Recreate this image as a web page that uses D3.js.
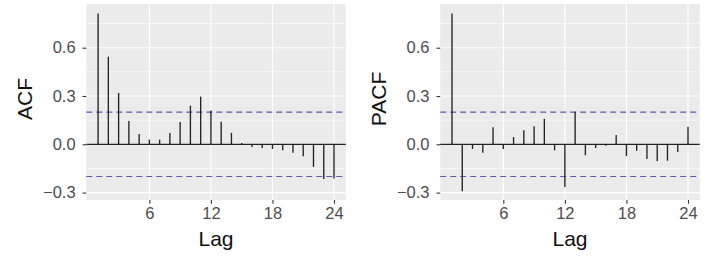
<!DOCTYPE html>
<html><head><meta charset="utf-8">
<script src="https://cdn.jsdelivr.net/npm/d3@7"></script>
<style>body{margin:0;background:#fff}svg{display:block}</style>
</head><body>
<svg id="c" width="708" height="260"></svg>
<script>
const lags = [1,2,3,4,5,6,7,8,9,10,11,12,13,14,15,16,17,18,19,20,21,22,23,24];
const acfValues = [0.813,0.544,0.319,0.145,0.064,0.029,0.029,0.070,0.139,0.240,0.296,0.210,0.140,0.071,0.008,-0.017,-0.023,-0.029,-0.037,-0.052,-0.075,-0.141,-0.216,-0.213];
const pacfValues = [0.813,-0.292,-0.029,-0.052,0.106,-0.029,0.045,0.087,0.112,0.158,-0.037,-0.265,0.202,-0.068,-0.023,-0.009,0.058,-0.073,-0.040,-0.091,-0.104,-0.102,-0.048,0.109];
const xTicks = [6,12,18,24];
const yTicks = [-0.3,0.0,0.3,0.6];
const yMinor = [-0.15,0.15,0.45,0.75];
const ciLimit = 0.2;
const panelTitles = ["ACF","PACF"];

(function(){
const svg = d3.select("#c");
const font = "'Liberation Sans', Arial, sans-serif";
const yTop = 4, yBottom = 200;
const panels = [
  {x0: 86.3, x1: 345.8, values: acfValues, title: panelTitles[0], titleX: 25},
  {x0: 440.2, x1: 699.8, values: pacfValues, title: panelTitles[1], titleX: 379}
];
const y = d3.scaleLinear().domain([-0.346, 0.8715]).range([yBottom, yTop]);

panels.forEach(p => {
  const x = d3.scaleLinear().domain([-0.15, 25.15]).range([p.x0, p.x1]);
  const g = svg.append("g");
  g.append("rect").attr("x", p.x0).attr("y", yTop).attr("width", p.x1 - p.x0).attr("height", yBottom - yTop).attr("fill", "#EBEBEB");
  g.selectAll(".ymin").data(yMinor).enter().append("line")
    .attr("x1", p.x0).attr("x2", p.x1).attr("y1", d => y(d)).attr("y2", d => y(d))
    .attr("stroke", "#fff").attr("stroke-width", 0.6);
  g.selectAll(".ymaj").data(yTicks).enter().append("line")
    .attr("x1", p.x0).attr("x2", p.x1).attr("y1", d => y(d)).attr("y2", d => y(d))
    .attr("stroke", "#fff").attr("stroke-width", 1.1);
  g.selectAll(".xmaj").data(xTicks).enter().append("line")
    .attr("x1", d => x(d)).attr("x2", d => x(d)).attr("y1", yTop).attr("y2", yBottom)
    .attr("stroke", "#fff").attr("stroke-width", 1.1);
  [ciLimit, -ciLimit].forEach(v => {
    g.append("line").attr("x1", p.x0).attr("x2", p.x1).attr("y1", y(v)).attr("y2", y(v))
      .attr("stroke", "#5A5AAE").attr("stroke-width", 1.1).attr("stroke-dasharray", "6,4");
  });
  g.append("line").attr("x1", p.x0).attr("x2", p.x1).attr("y1", y(0)).attr("y2", y(0))
    .attr("stroke", "#222").attr("stroke-width", 1.2);
  g.selectAll(".bar").data(lags).enter().append("line")
    .attr("x1", d => x(d)).attr("x2", d => x(d))
    .attr("y1", y(0)).attr("y2", (d, i) => y(p.values[i]))
    .attr("stroke", "#222").attr("stroke-width", 1.35);
  const xa = g.append("g").attr("transform", `translate(0,${yBottom})`)
    .call(d3.axisBottom(x).tickValues(xTicks).tickFormat(d3.format("d")).tickSize(3.7).tickPadding(4));
  const ya = g.append("g").attr("transform", `translate(${p.x0},0)`)
    .call(d3.axisLeft(y).tickValues(yTicks).tickFormat(d3.format(".1f")).tickSize(3.7).tickPadding(7));
  [xa, ya].forEach(a => {
    a.select(".domain").remove();
    a.selectAll(".tick line").attr("stroke", "#333").attr("stroke-width", 1.1);
    a.selectAll("text").attr("fill", "#4D4D4D").style("font-family", font).style("font-size", "16.5px");
  });
  svg.append("text").attr("x", (p.x0 + p.x1) / 2).attr("y", 246).attr("text-anchor", "middle")
    .style("font-family", font).style("font-size", "21px").attr("fill", "#111").text("Lag");
  svg.append("text").attr("transform", `translate(${p.titleX + 7},${(yTop + yBottom) / 2 - 3}) rotate(-90)`)
    .attr("text-anchor", "middle")
    .style("font-family", font).style("font-size", "21px").attr("fill", "#111").text(p.title);
});
})();
</script>
</body></html>
